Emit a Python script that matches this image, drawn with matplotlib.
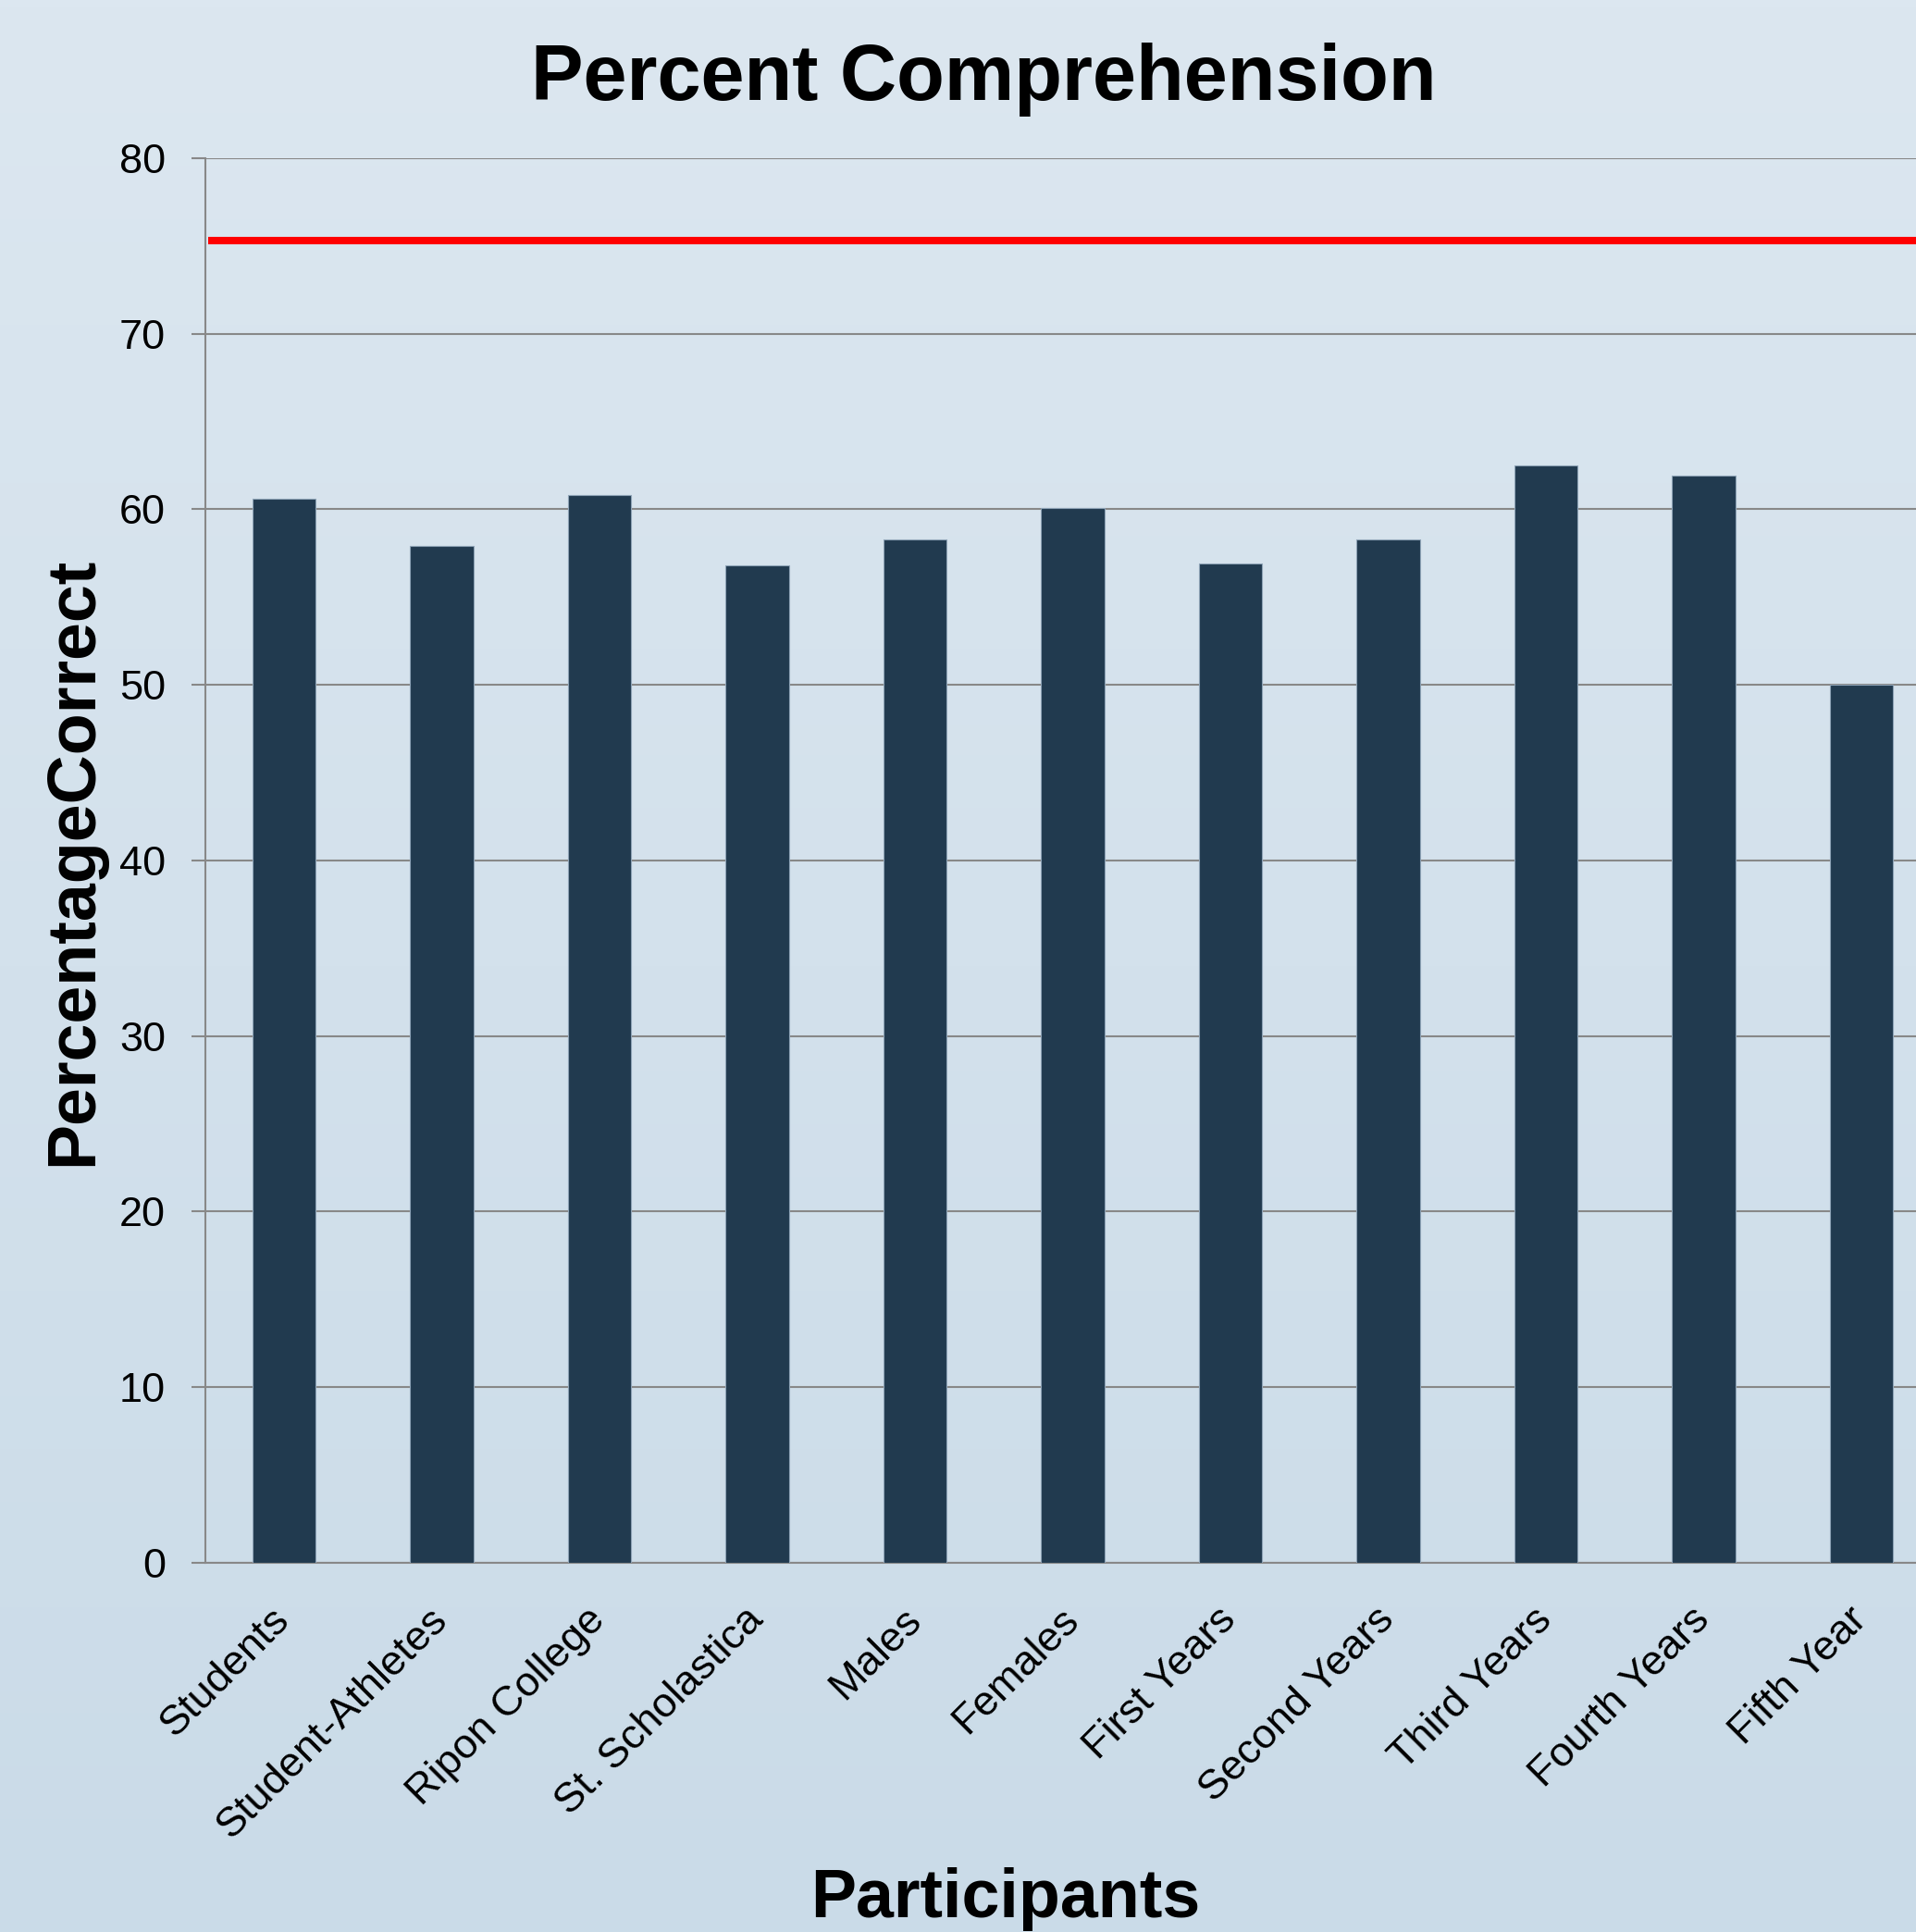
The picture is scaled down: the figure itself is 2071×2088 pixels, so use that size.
import numpy as np
import matplotlib.pyplot as plt

plt.rcParams['font.family'] = ['Liberation Sans', 'DejaVu Sans']

# Data
categories = ['Students', 'Student-Athletes', 'Ripon College', 'St. Scholastica',
              'Males', 'Females', 'First Years', 'Second Years', 'Third Years',
              'Fourth Years', 'Fifth Year']
percent_correct = [60.6, 57.9, 60.8, 56.8, 58.3, 60.1, 56.9, 58.3, 62.5, 61.9, 50.0]
benchmark = 75.3
y_ticks = [0, 10, 20, 30, 40, 50, 60, 70, 80]

W, H = 2071, 2088
fig = plt.figure(figsize=(W / 100, H / 100), dpi=100)

# gradient background over the whole figure
bg = fig.add_axes([0, 0, 1, 1], zorder=-10)
top = np.array([0xdc, 0xe7, 0xf0]) / 255
bot = np.array([0xca, 0xdb, 0xe8]) / 255
t = np.linspace(0, 1, 256)[:, None, None]
grad = top * (1 - t) + bot * t
bg.imshow(grad, aspect='auto', extent=[0, 1, 0, 1])
bg.axis('off')

# main axes (right edge runs past the figure, as in the original)
left, right = 221.8, 221.8 + 11 * 170.5
y0, y80 = 1688.6, 171.0
ax = fig.add_axes([left / W, (H - y0) / H, (right - left) / W, (y0 - y80) / H])
ax.patch.set_alpha(0)

x = np.arange(len(categories))
ax.bar(x, percent_correct, width=0.4, color='#213a4f', edgecolor='#8ea3b6',
       linewidth=0.8, zorder=3)
ax.plot([-0.48, len(categories) - 0.5], [benchmark, benchmark], color='#ff0000',
        linewidth=5.8, solid_capstyle='butt', zorder=4)

ax.set_xlim(-0.5, len(categories) - 0.5)
ax.set_ylim(0, 80)
ax.set_yticks(y_ticks)
ax.set_xticks(x)
ax.set_xticklabels(categories, rotation=45, ha='right', rotation_mode='anchor',
                   va='center', fontsize=32.5)
ax.tick_params(axis='x', length=0, pad=40)
ax.tick_params(axis='y', length=10.8, width=1.5, color='#888888', pad=20,
               labelsize=32.5)

ax.grid(axis='y', color='#888888', linewidth=1.5, zorder=0)
ax.set_axisbelow(True)
for s in ['top', 'right']:
    ax.spines[s].set_visible(False)
for s in ['left', 'bottom']:
    ax.spines[s].set_color('#888888')
    ax.spines[s].set_linewidth(1.5)

fig.text(1063 / W, (H - 108) / H, 'Percent Comprehension', fontsize=61,
         fontweight='bold', ha='center', va='baseline')
fig.text(1087 / W, (H - 2072) / H, 'Participants', fontsize=53,
         fontweight='bold', ha='center', va='baseline')
fig.text(80 / W, (H - 931) / H, 'PercentageCorrect', fontsize=53,
         fontweight='bold', ha='center', va='center', rotation=90)

plt.savefig('out.png', dpi=100)
